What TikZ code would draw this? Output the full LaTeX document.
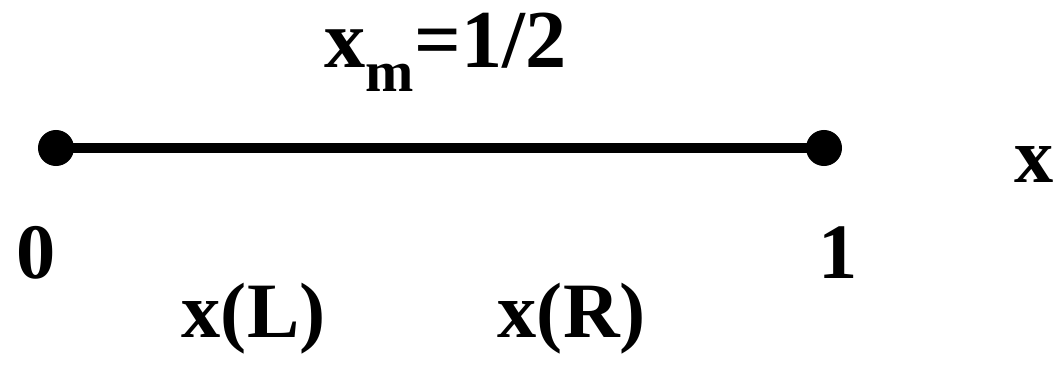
\documentclass[tikz,border=0pt]{standalone}
\usepackage{fontspec}
\setmainfont{Liberation Serif}
\begin{document}
\begin{tikzpicture}[x=0.01cm,y=-0.01cm,
  lbl/.style={inner sep=0pt,anchor=base west,font=\fontsize{22.3}{26}\selectfont\bfseries},
  dot/.style={circle,fill=black,inner sep=0pt,minimum size=0.36cm}]
\useasboundingbox (0,0) rectangle (1060,367);
\node[dot] (a) at (56,148) {};
\node[dot] (b) at (824,148) {};
\draw[line width=0.105cm] (a.center) -- (b.center);
\node[lbl,font=\fontsize{23.4}{27}\selectfont\bfseries] (t) at (324,68) {x\raisebox{-0.23cm}{\fontsize{16.5}{18}\selectfont\bfseries m}=1/2};
\node[lbl] (x) at (1014,183) {x};
\node[lbl] (z) at (16,278) {0};
\node[lbl] (o) at (818,278) {1};
\node[lbl] (l) at (181,338) {x(L)};
\node[lbl] (r) at (497,338) {x(R)};
\end{tikzpicture}
\end{document}
